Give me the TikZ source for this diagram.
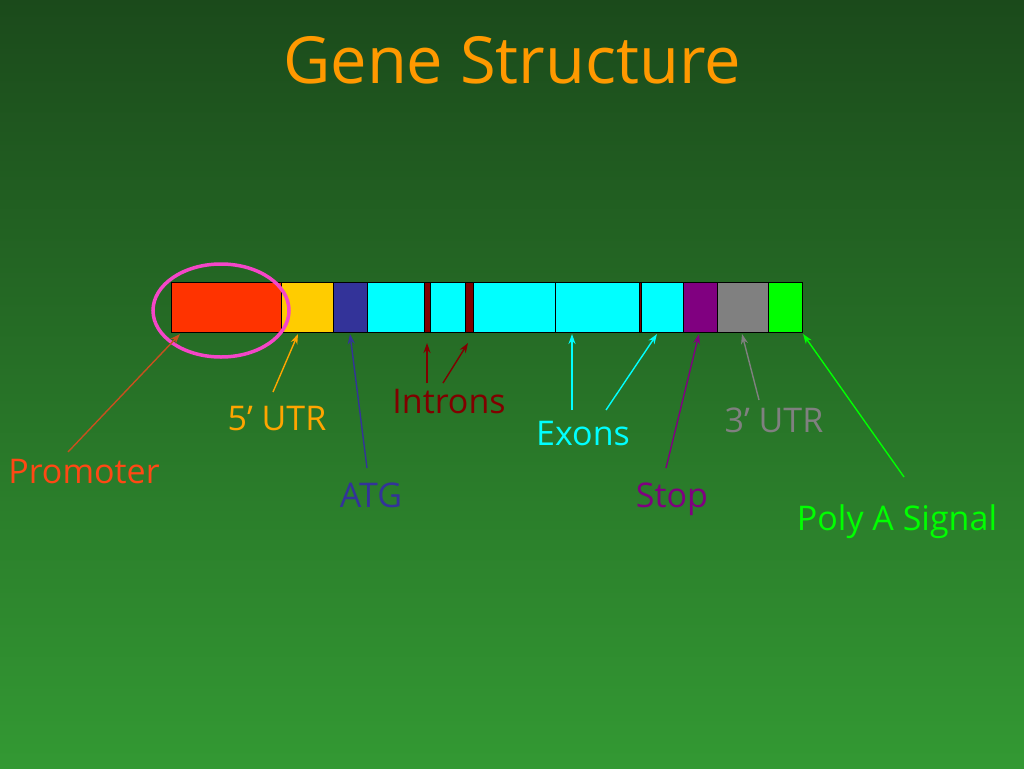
\documentclass[tikz,border=0pt]{standalone}
\usepackage{fontspec}
\setmainfont{Open Sans}
\usetikzlibrary{shapes.geometric,arrows.meta}
\definecolor{bgtop}{RGB}{27,74,27}
\definecolor{bgbot}{RGB}{51,153,51}
\definecolor{titlec}{RGB}{255,153,0}
\definecolor{promc}{RGB}{255,51,0}
\definecolor{promtxt}{RGB}{255,72,20}
\definecolor{promarr}{RGB}{200,80,30}
\definecolor{utrfive}{RGB}{255,204,0}
\definecolor{utrfivetxt}{RGB}{255,165,0}
\definecolor{atgc}{RGB}{51,51,153}
\definecolor{exonc}{RGB}{0,255,255}
\definecolor{intronc}{RGB}{128,0,0}
\definecolor{stopc}{RGB}{128,0,128}
\definecolor{utrthree}{RGB}{128,128,128}
\definecolor{polyc}{RGB}{0,255,0}
\definecolor{ringc}{RGB}{245,70,200}
\newcommand\lblfont{\fontsize{34}{40}\selectfont}
\begin{document}
\begin{tikzpicture}[x=1pt,y=-1pt,
  seg/.style={draw=black,line width=1pt,inner sep=0pt,outer sep=0pt,minimum height=50pt,anchor=center},
  lbl/.style={font=\lblfont,inner sep=0pt,anchor=base},
  arr/.style={line width=1.4pt,-{Stealth[length=10pt,width=7pt]}}]
\useasboundingbox (0,0) rectangle (1024,768);
\shade[top color=bgtop,bottom color=bgbot] (0,0) rectangle (1024,768);
% title
\node[font=\fontsize{65}{72}\selectfont,text=titlec,inner sep=0pt,anchor=base] (title) at (512,83) {Gene Structure};
% gene segments
\foreach \nm/\xa/\xb/\col in {prom/171/281/promc, utrf/281/333/utrfive, atg/333/367/atgc,
   exa/367/424/exonc, ina/424/430/intronc, exb/430/465/exonc, inb/465/473/intronc,
   exc/473/555/exonc, exd/555/639/exonc, inc/639/641/intronc, exe/641/683/exonc,
   stp/683/717/stopc, utrt/717/768/utrthree, poly/768/802/polyc}
  \node[seg,fill=\col,minimum width={\xb-\xa}] (\nm) at ({(\xa+\xb)/2},307) {};
% ring around promoter
\node[draw=ringc,line width=3.5pt,ellipse,inner sep=0pt,minimum width=136pt,minimum height=93pt] (ring) at (221,310.5) {};
% labels
\node[lbl,text=promtxt] (lprom) at (84,483) {Promoter};
\node[lbl,text=utrfivetxt] (lutrf) at (277,430) {5’ UTR};
\node[lbl,text=atgc] (latg) at (371,507) {ATG};
\node[lbl,text=intronc] (lintr) at (449,413) {Introns};
\node[lbl,text=exonc] (lexon) at (583,445) {Exons};
\node[lbl,text=stopc] (lstop) at (672,507) {Stop};
\node[lbl,text=utrthree] (lutrt) at (774,432) {3’ UTR};
\node[lbl,text=polyc] (lpoly) at (897,530) {Poly A Signal};
% arrow end points
\coordinate (tprom) at (68,452);   \coordinate (hprom) at (180,334);
\coordinate (tutrf) at (273,392);  \coordinate (hutrf) at (298,334);
\coordinate (tatg) at (367,468);   \coordinate (hatg) at (350,334);
\coordinate (tina) at (427,383);   \coordinate (hina) at (427,343);
\coordinate (tinb) at (443,383);   \coordinate (hinb) at (468,343);
\coordinate (texa) at (572,410);   \coordinate (hexa) at (572,334);
\coordinate (texb) at (606,410);   \coordinate (hexb) at (657,334);
\coordinate (tstp) at (666,468);   \coordinate (hstp) at (699,334);
\coordinate (tutrt) at (759,400);  \coordinate (hutrt) at (742,334);
\coordinate (tpoly) at (904,477);  \coordinate (hpoly) at (803,334);
% arrows
\draw[arr,promarr] (tprom) -- (hprom);
\draw[arr,utrfivetxt] (tutrf) -- (hutrf);
\draw[arr,atgc] (tatg) -- (hatg);
\draw[arr,intronc] (tina) -- (hina);
\draw[arr,intronc] (tinb) -- (hinb);
\draw[arr,exonc] (texa) -- (hexa);
\draw[arr,exonc] (texb) -- (hexb);
\draw[arr,stopc] (tstp) -- (hstp);
\draw[arr,utrthree] (tutrt) -- (hutrt);
\draw[arr,polyc] (tpoly) -- (hpoly);
\end{tikzpicture}
\end{document}
